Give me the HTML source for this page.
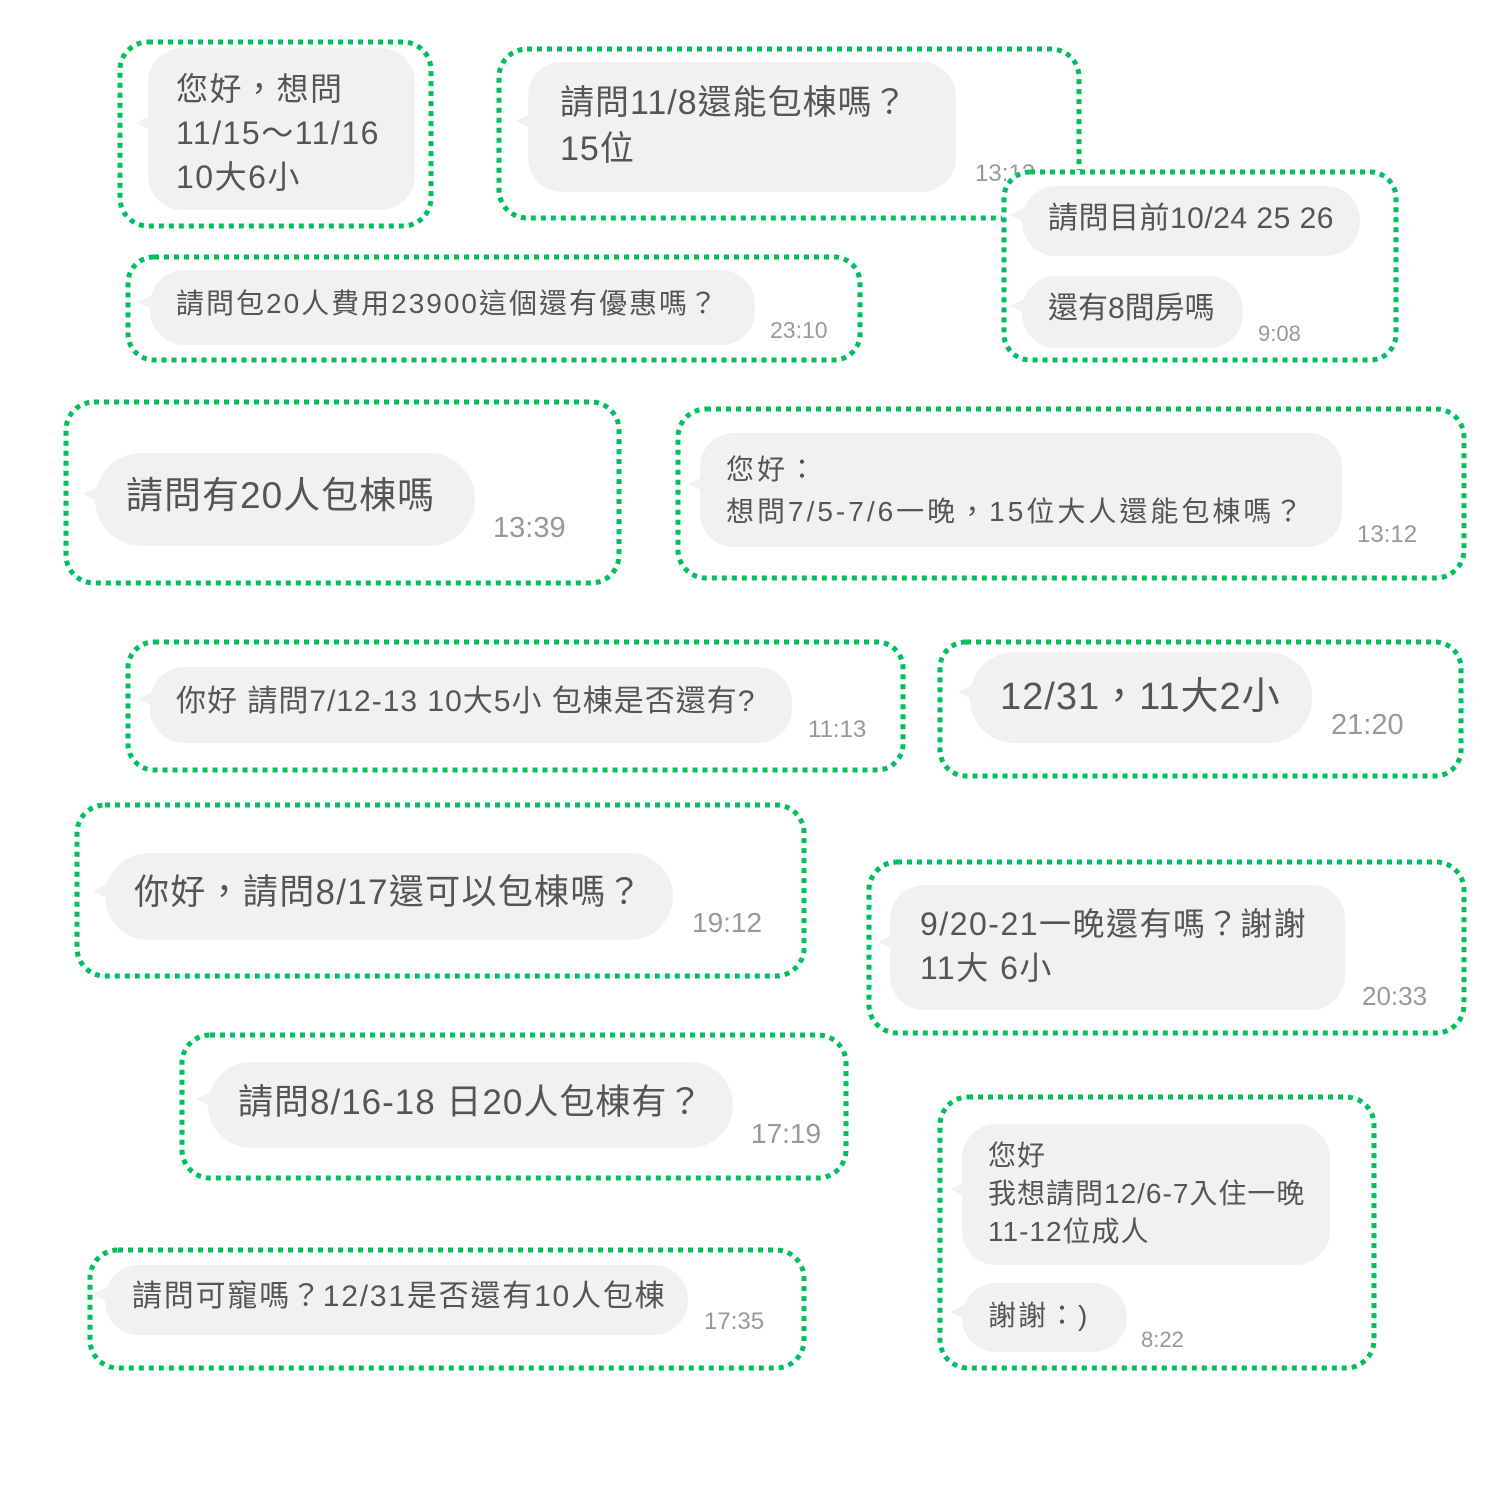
<!DOCTYPE html>
<html><head><meta charset="utf-8"><style>
html,body{margin:0;padding:0;background:#fff;}
body{width:1500px;height:1500px;position:relative;overflow:hidden;font-family:"Liberation Sans","Noto Sans CJK TC",sans-serif;color:#555;}
.g{position:absolute;}
.g svg{position:absolute;left:0;top:0;overflow:visible;}
.b{position:absolute;background:#f0f1f3;border-radius:34px;}
.b:before{content:"";position:absolute;left:-12px;top:50%;margin-top:-14px;border-right:16px solid #f0f1f3;border-top:8px solid transparent;border-bottom:8px solid transparent;}
.t{position:absolute;white-space:nowrap;line-height:1;}
.ts{position:absolute;white-space:nowrap;line-height:1;color:#999;}
rect{stroke-width:5px;stroke-dasharray:5 5;}
</style></head><body>

<div class="g" style="left:118px;top:40px;width:315px;height:188px;">
<svg width="315" height="188"><rect x="2" y="2" width="311" height="184" rx="28" fill="none" stroke="#00bf5f"/></svg></div>
<div class="b" style="left:148px;top:48px;width:267px;height:162px;"></div>
<div class="t" style="left:176px;top:67px;font-size:32px;line-height:44px;letter-spacing:1.5px;">您好，想問<br>11/15～11/16<br>10大6小</div>

<div class="g" style="left:497px;top:47px;width:584px;height:173px;">
<svg width="584" height="173"><rect x="2" y="2" width="580" height="169" rx="28" fill="none" stroke="#00bf5f"/></svg></div>
<div class="b" style="left:528px;top:62px;width:428px;height:130px;"></div>
<div class="t" style="left:560px;top:80px;font-size:34px;line-height:46px;letter-spacing:1px;">請問11/8還能包棟嗎？<br>15位</div>
<div class="ts" style="left:975px;top:162px;font-size:24px;">13:12</div>

<div class="g" style="left:1002px;top:170px;width:396px;height:192px;background:#fff;border-radius:26px;">
<svg width="396" height="192"><rect x="2" y="2" width="392" height="188" rx="26" fill="none" stroke="#00bf5f"/></svg></div>
<div class="b" style="left:1022px;top:186px;width:338px;height:70px;"></div>
<div class="t" style="left:1048px;top:204px;font-size:30px;letter-spacing:0.5px;">請問目前10/24 25 26</div>
<div class="b" style="left:1022px;top:276px;width:221px;height:72px;"></div>
<div class="t" style="left:1048px;top:294px;font-size:30px;">還有8間房嗎</div>
<div class="ts" style="left:1258px;top:323px;font-size:22px;">9:08</div>

<div class="g" style="left:126px;top:255px;width:736px;height:107px;">
<svg width="736" height="107"><rect x="2" y="2" width="732" height="103" rx="26" fill="none" stroke="#00bf5f"/></svg></div>
<div class="b" style="left:150px;top:270px;width:605px;height:75px;"></div>
<div class="t" style="left:176px;top:290px;font-size:28px;letter-spacing:2px;">請問包20人費用23900這個還有優惠嗎？</div>
<div class="ts" style="left:770px;top:319px;font-size:23px;">23:10</div>

<div class="g" style="left:64px;top:400px;width:557px;height:185px;">
<svg width="557" height="185"><rect x="2" y="2" width="553" height="181" rx="28" fill="none" stroke="#00bf5f"/></svg></div>
<div class="b" style="left:95px;top:453px;width:380px;height:93px;border-radius:46px;"></div>
<div class="t" style="left:126px;top:477px;font-size:37px;letter-spacing:1px;">請問有20人包棟嗎</div>
<div class="ts" style="left:493px;top:514px;font-size:29px;">13:39</div>

<div class="g" style="left:676px;top:407px;width:790px;height:173px;">
<svg width="790" height="173"><rect x="2" y="2" width="786" height="169" rx="28" fill="none" stroke="#00bf5f"/></svg></div>
<div class="b" style="left:700px;top:433px;width:642px;height:114px;"></div>
<div class="t" style="left:726px;top:449px;font-size:28px;line-height:42px;letter-spacing:3px;">您好：<br>想問7/5-7/6一晚，15位大人還能包棟嗎？</div>
<div class="ts" style="left:1357px;top:523px;font-size:24px;">13:12</div>

<div class="g" style="left:126px;top:640px;width:779px;height:132px;">
<svg width="779" height="132"><rect x="2" y="2" width="775" height="128" rx="26" fill="none" stroke="#00bf5f"/></svg></div>
<div class="b" style="left:150px;top:667px;width:642px;height:76px;"></div>
<div class="t" style="left:176px;top:687px;font-size:30px;letter-spacing:1px;">你好 請問7/12-13 10大5小 包棟是否還有?</div>
<div class="ts" style="left:808px;top:718px;font-size:24px;">11:13</div>

<div class="g" style="left:938px;top:640px;width:525px;height:138px;">
<svg width="525" height="138"><rect x="2" y="2" width="521" height="134" rx="26" fill="none" stroke="#00bf5f"/></svg></div>
<div class="b" style="left:970px;top:652px;width:342px;height:91px;border-radius:44px;"></div>
<div class="t" style="left:1000px;top:678px;font-size:38px;letter-spacing:1px;">12/31，11大2小</div>
<div class="ts" style="left:1331px;top:711px;font-size:29px;">21:20</div>

<div class="g" style="left:75px;top:803px;width:731px;height:175px;">
<svg width="731" height="175"><rect x="2" y="2" width="727" height="171" rx="28" fill="none" stroke="#00bf5f"/></svg></div>
<div class="b" style="left:105px;top:853px;width:568px;height:87px;border-radius:44px;"></div>
<div class="t" style="left:134px;top:875px;font-size:35px;letter-spacing:1.3px;">你好，請問8/17還可以包棟嗎？</div>
<div class="ts" style="left:692px;top:909px;font-size:28px;">19:12</div>

<div class="g" style="left:867px;top:860px;width:599px;height:175px;">
<svg width="599" height="175"><rect x="2" y="2" width="595" height="171" rx="28" fill="none" stroke="#00bf5f"/></svg></div>
<div class="b" style="left:890px;top:885px;width:455px;height:125px;"></div>
<div class="t" style="left:920px;top:902px;font-size:32px;line-height:44px;letter-spacing:1.5px;">9/20-21一晚還有嗎？謝謝<br>11大 6小</div>
<div class="ts" style="left:1362px;top:983px;font-size:26px;">20:33</div>

<div class="g" style="left:180px;top:1033px;width:668px;height:147px;">
<svg width="668" height="147"><rect x="2" y="2" width="664" height="143" rx="28" fill="none" stroke="#00bf5f"/></svg></div>
<div class="b" style="left:208px;top:1062px;width:525px;height:86px;border-radius:43px;"></div>
<div class="t" style="left:238px;top:1085px;font-size:35px;letter-spacing:1px;">請問8/16-18 日20人包棟有？</div>
<div class="ts" style="left:751px;top:1120px;font-size:28px;">17:19</div>

<div class="g" style="left:938px;top:1095px;width:438px;height:275px;">
<svg width="438" height="275"><rect x="2" y="2" width="434" height="271" rx="28" fill="none" stroke="#00bf5f"/></svg></div>
<div class="b" style="left:962px;top:1124px;width:368px;height:141px;"></div>
<div class="t" style="left:988px;top:1137px;font-size:28px;line-height:38px;letter-spacing:1px;">您好<br>我想請問12/6-7入住一晚<br>11-12位成人</div>
<div class="b" style="left:962px;top:1283px;width:165px;height:69px;"></div>
<div class="t" style="left:988px;top:1302px;font-size:28px;letter-spacing:2px;">謝謝：)</div>
<div class="ts" style="left:1141px;top:1329px;font-size:22px;">8:22</div>

<div class="g" style="left:88px;top:1248px;width:718px;height:122px;">
<svg width="718" height="122"><rect x="2" y="2" width="714" height="118" rx="28" fill="none" stroke="#00bf5f"/></svg></div>
<div class="b" style="left:105px;top:1265px;width:583px;height:70px;"></div>
<div class="t" style="left:132px;top:1282px;font-size:30px;letter-spacing:1.8px;">請問可寵嗎？12/31是否還有10人包棟</div>
<div class="ts" style="left:704px;top:1310px;font-size:24px;">17:35</div>

</body></html>
